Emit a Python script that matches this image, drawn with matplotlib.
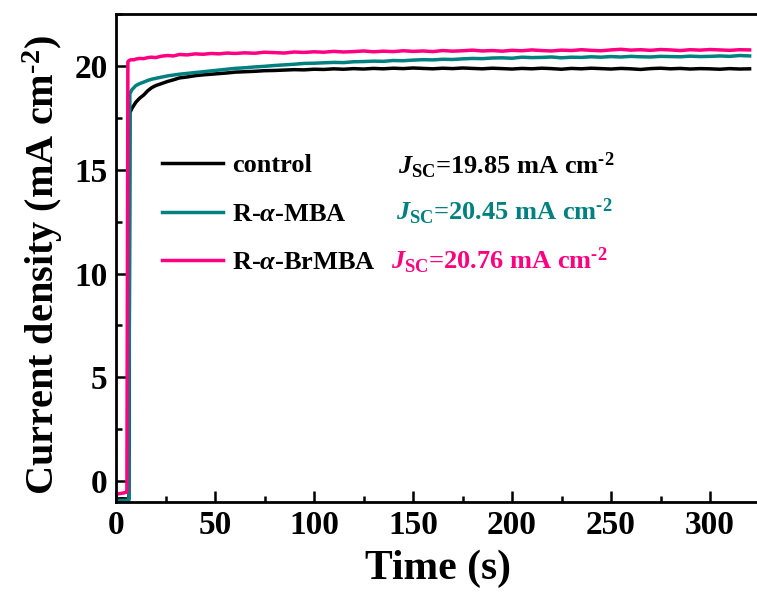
import matplotlib
matplotlib.use("Agg")
import matplotlib.pyplot as plt
from matplotlib.ticker import MultipleLocator

plt.rcParams['font.family'] = ['Liberation Serif', 'DejaVu Serif']
plt.rcParams['font.weight'] = 'bold'
plt.rcParams['mathtext.fontset'] = 'custom'
plt.rcParams['mathtext.rm'] = 'Liberation Serif:bold'
plt.rcParams['mathtext.bf'] = 'Liberation Serif:bold'
plt.rcParams['mathtext.it'] = 'Liberation Serif:italic:bold'

# Time axis (s)
time_s = [0, 1.5, 3, 4.5, 5.5, 6, 6.5, 7, 8, 9, 10, 12, 14, 16, 18, 20, 23, 26, 29, 32,
          36, 40, 44, 48, 52, 56, 60, 65, 70, 75, 80, 85, 90, 95, 100, 105, 110, 115,
          120, 125, 130, 135, 140, 145, 150, 155, 160, 165, 170, 175, 180, 185, 190,
          195, 200, 205, 210, 215, 220, 225, 230, 235, 240, 245, 250, 255, 260, 265,
          270, 275, 280, 285, 290, 295, 300, 305, 310, 315, 320]

# Steady-state current density (mA cm^-2)
control = [-0.85, -0.85, -0.84, -0.85, -0.85, -0.85, -0.85, 17.75, 17.95, 18.10, 18.25,
           18.45, 18.60, 18.80, 18.95, 19.05, 19.15, 19.25, 19.33, 19.42, 19.47, 19.53,
           19.57, 19.60, 19.63, 19.66, 19.70, 19.72, 19.74, 19.77, 19.78, 19.80, 19.82,
           19.81, 19.84, 19.83, 19.86, 19.84, 19.87, 19.85, 19.88, 19.86, 19.89, 19.87,
           19.90, 19.88, 19.86, 19.89, 19.87, 19.90, 19.88, 19.86, 19.89, 19.87, 19.85,
           19.88, 19.86, 19.89, 19.87, 19.84, 19.88, 19.86, 19.89, 19.87, 19.85, 19.88,
           19.86, 19.83, 19.87, 19.89, 19.86, 19.88, 19.85, 19.87, 19.86, 19.84, 19.87,
           19.85, 19.86]

mba = [-0.92, -0.92, -0.92, -0.92, -0.92, -0.92, -0.92, 18.65, 18.85, 18.95, 19.05,
       19.15, 19.22, 19.30, 19.36, 19.40, 19.46, 19.52, 19.56, 19.60, 19.64, 19.68,
       19.72, 19.76, 19.80, 19.84, 19.88, 19.91, 19.95, 19.98, 20.02, 20.05, 20.08,
       20.12, 20.13, 20.15, 20.17, 20.16, 20.20, 20.21, 20.23, 20.22, 20.26, 20.25,
       20.28, 20.30, 20.29, 20.32, 20.31, 20.34, 20.36, 20.35, 20.38, 20.39, 20.37,
       20.42, 20.40, 20.41, 20.43, 20.39, 20.42, 20.41, 20.44, 20.42, 20.45, 20.43,
       20.46, 20.44, 20.43, 20.46, 20.45, 20.44, 20.47, 20.45, 20.46, 20.48, 20.46,
       20.50, 20.48]

brmba = [-0.62, -0.60, -0.58, -0.55, -0.52, 20.20, 20.25, 20.28, 20.30, 20.29, 20.33,
         20.36, 20.35, 20.40, 20.42, 20.40, 20.47, 20.50, 20.48, 20.55, 20.53, 20.58,
         20.56, 20.60, 20.58, 20.62, 20.60, 20.63, 20.61, 20.66, 20.64, 20.62, 20.67,
         20.65, 20.68, 20.66, 20.70, 20.67, 20.69, 20.72, 20.68, 20.71, 20.69, 20.73,
         20.70, 20.72, 20.69, 20.74, 20.71, 20.73, 20.76, 20.72, 20.74, 20.71, 20.75,
         20.73, 20.77, 20.74, 20.72, 20.76, 20.74, 20.78, 20.75, 20.73, 20.77, 20.80,
         20.76, 20.78, 20.75, 20.79, 20.77, 20.74, 20.78, 20.76, 20.79, 20.77, 20.75,
         20.78, 20.77]

labels = ['control', r'R-$\mathit{\alpha}$-MBA', r'R-$\mathit{\alpha}$-BrMBA']
jsc_values = [19.85, 20.45, 20.76]
colors = ['#000000', '#008080', '#FF0080']

fig = plt.figure(figsize=(7.57, 5.97), dpi=100)
ax = fig.add_axes([116 / 757, 95 / 597, 643.5 / 757, 488 / 597])

for series, lab, col in zip([control, mba, brmba], labels, colors):
    ax.plot(time_s, series, color=col, lw=2.5, label=lab)

ax.set_xlim(0, 325)
ax.set_ylim(-1, 22.5)
ax.xaxis.set_major_locator(MultipleLocator(50))
ax.xaxis.set_minor_locator(MultipleLocator(25))
ax.yaxis.set_major_locator(MultipleLocator(5))
ax.yaxis.set_minor_locator(MultipleLocator(2.5))
ax.tick_params(which='both', direction='in', width=1.8, labelsize=24, pad=6)
ax.tick_params(which='major', length=8)
ax.tick_params(which='minor', length=4)
for s in ax.spines.values():
    s.set_linewidth(2.0)

ax.set_xlabel('Time (s)', fontsize=30, fontweight='bold', labelpad=6)
ax.set_ylabel(r'Current density (mA cm$^{\text{-2}}$)', fontsize=29, fontweight='bold',
              labelpad=4)
ax.yaxis.set_label_coords(-0.08, 0.485)

leg = ax.legend(loc='upper left', bbox_to_anchor=(0.055, 0.735), frameon=False,
                fontsize=19, handlelength=2.3, handletextpad=0.35, labelspacing=0.95,
                borderaxespad=0)
for txt in leg.get_texts():
    txt.set_fontweight('bold')

text_y = [15.2, 12.95, 10.6]
text_x = [142.5, 141.5, 139]
for val, col, ty, tx in zip(jsc_values, colors, text_y, text_x):
    ax.text(tx, ty, r'$J_{\mathrm{SC}}$=%.2f mA cm$^{\text{-2}}$' % val, color=col,
            fontsize=19, fontweight='bold', va='center', ha='left')

fig.savefig('out.png', dpi=100)
